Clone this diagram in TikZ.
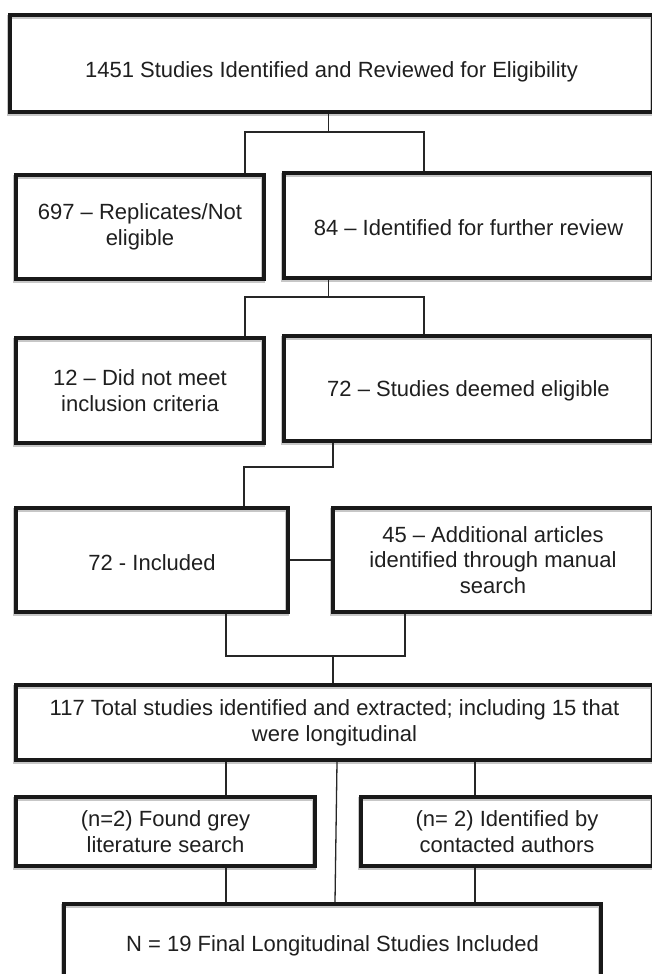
\documentclass[tikz,border=0pt]{standalone}
\usepackage{fontspec}
\setmainfont{Liberation Sans}
\begin{document}
\begin{tikzpicture}[x=1pt,y=-1pt,
  box/.style={draw=black!90, line width=4pt, inner sep=0pt, align=center, text=black!88,
    font=\fontsize{22}{25.7}\selectfont,
    execute at begin node={\rule{0pt}{21pt}},
    preaction={draw=black!22, line width=4pt, transform canvas={xshift=-1.5pt,yshift=-2pt}}},
  conn/.style={draw=black!85, line width=1.3pt}]
\useasboundingbox (0,0) rectangle (652,974);
\clip (0,0) rectangle (652,974);
\fill[white] (0,0) rectangle (652,974);

\node[box, minimum width=643pt, minimum height=97pt] (top) at (331.5,63.5) {\rule{0pt}{32pt}1451 Studies Identified and Reviewed for Eligibility};
\node[box, minimum width=248pt, minimum height=104pt] (b697) at (140,227) {697 – Replicates/Not\\eligible};
\node[box, minimum width=369pt, minimum height=105pt] (b84) at (468.5,225.5) {84 – Identified for further review};
\node[box, minimum width=248pt, minimum height=105pt] (b12) at (140,390.5) {12 – Did not meet\\inclusion criteria};
\node[box, minimum width=369pt, minimum height=105pt] (b72e) at (468.5,388.5) {72 – Studies deemed eligible};
\node[box, minimum width=272pt, minimum height=104pt] (b72i) at (152,560) {72 - Included};
\node[box, minimum width=320pt, minimum height=104pt] (b45) at (493,560) {45 – Additional articles\\identified through manual\\search};
\node[box, minimum width=637pt, minimum height=75pt] (b117) at (334.5,722.5) {117 Total studies identified and extracted; including 15 that\\were longitudinal};
\node[box, minimum width=299pt, minimum height=69pt] (bgrey) at (165.5,831.5) {(n=2) Found grey\\literature search};
\node[box, minimum width=292pt, minimum height=69pt] (bauth) at (507,831.5) {(n= 2) Identified by\\contacted authors};
\node[box, minimum width=537pt, minimum height=78pt] (bfinal) at (332.5,943) {N = 19 Final Longitudinal Studies Included};

\coordinate (c1l) at (245,132);
\coordinate (c1m) at (328.5,132);
\coordinate (c1r) at (424,132);
\draw[conn] (top.south -| c1m) -- (c1m);
\draw[conn] (b697.north -| c1l) -- (c1l) -- (c1r) -- (b84.north -| c1r);

\coordinate (c2l) at (245,297);
\coordinate (c2m) at (328.5,297);
\coordinate (c2r) at (424,297);
\draw[conn] (b84.south -| c2m) -- (c2m);
\draw[conn] (b12.north -| c2l) -- (c2l) -- (c2r) -- (b72e.north -| c2r);

\coordinate (c3l) at (244,467);
\coordinate (c3r) at (333,467);
\draw[conn] (b72e.south -| c3r) -- (c3r) -- (c3l) -- (b72i.north -| c3l);

\draw[conn] (b72i.east) -- (b45.west);

\coordinate (c4l) at (226,656);
\coordinate (c4m) at (333,656);
\coordinate (c4r) at (405,656);
\draw[conn] (b72i.south -| c4l) -- (c4l) -- (c4r) -- (b45.south -| c4r);
\draw[conn] (c4m) -- (b117.north -| c4m);

\coordinate (x226) at (226,0);
\coordinate (x475) at (475,0);
\coordinate (x337) at (337,0);
\coordinate (x335) at (335,0);
\draw[conn] (b117.south -| x226) -- (bgrey.north -| x226);
\draw[conn] (b117.south -| x475) -- (bauth.north -| x475);
\draw[conn] (b117.south -| x337) -- (bfinal.north -| x335);
\draw[conn] (bgrey.south -| x226) -- (bfinal.north -| x226);
\draw[conn] (bauth.south -| x475) -- (bfinal.north -| x475);
\end{tikzpicture}
\end{document}
